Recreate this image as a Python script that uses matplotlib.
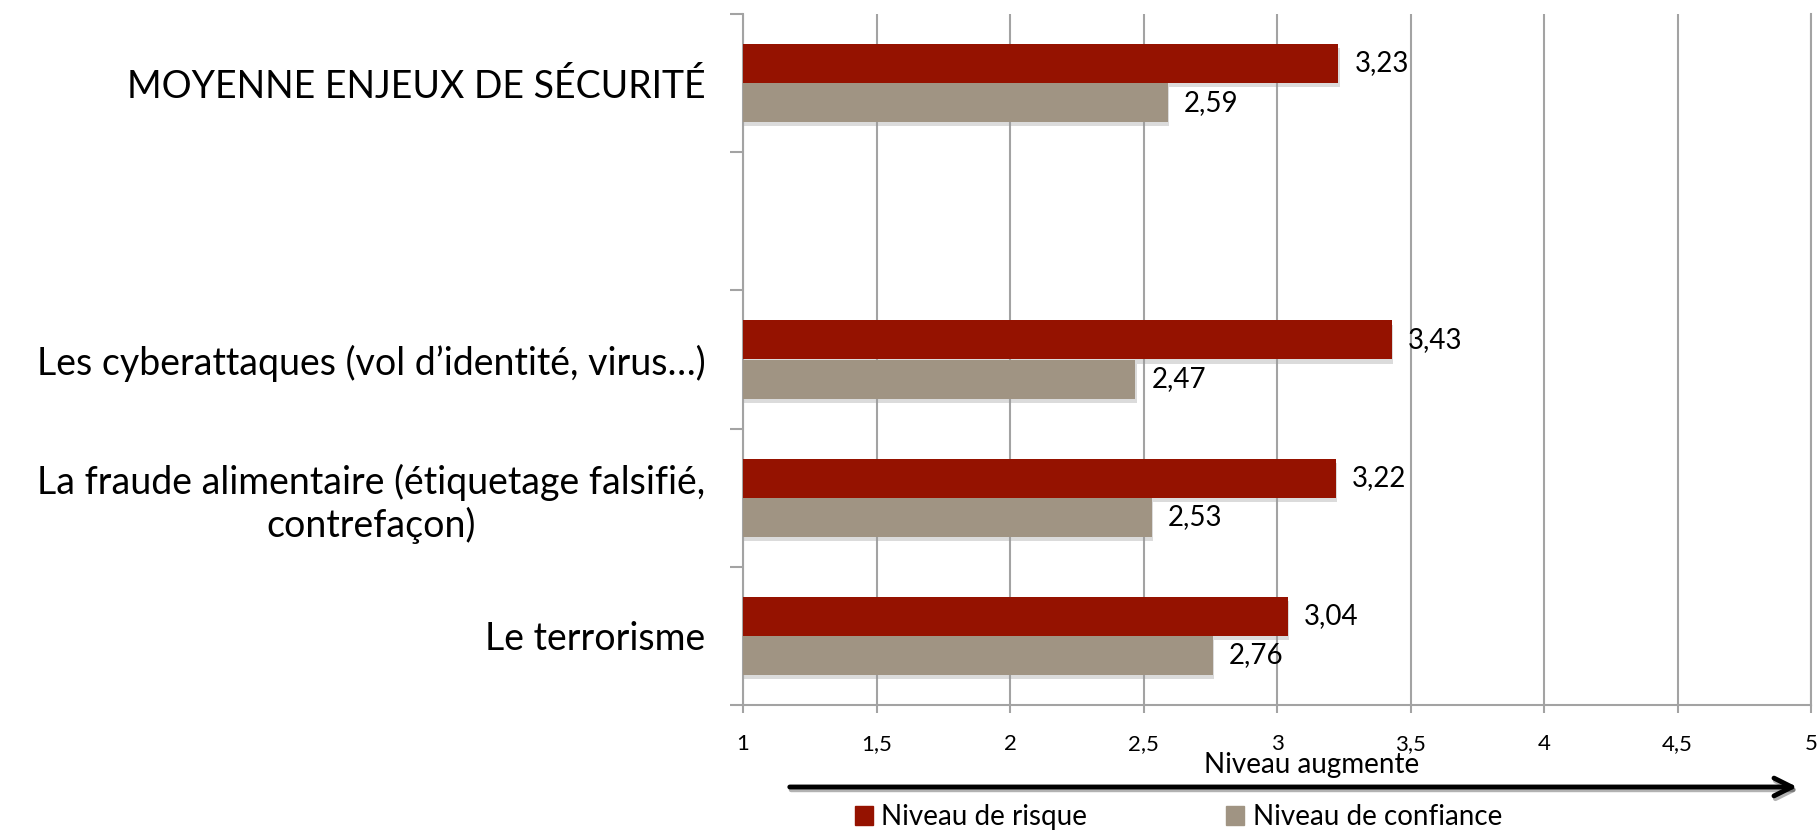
import numpy as np
import matplotlib
matplotlib.use('Agg')
import matplotlib.pyplot as plt
import matplotlib.patheffects as pe

plt.rcParams['font.family'] = ['Lato', 'DejaVu Sans']

# Data (bottom to top, blank slot between the items and the average)
categories = ['Le terrorisme',
              'La fraude alimentaire (étiquetage falsifié,\ncontrefaçon)',
              'Les cyberattaques (vol d\u2019identité, virus\u2026)',
              '',
              'MOYENNE ENJEUX DE SÉCURITÉ']
risque = [3.04, 3.22, 3.43, np.nan, 3.23]
confiance = [2.76, 2.53, 2.47, np.nan, 2.59]
xticks = [1, 1.5, 2, 2.5, 3, 3.5, 4, 4.5, 5]

red = '#951200'
grey = '#a09483'
axis_grey = '#a3a3a3'

fig = plt.figure(figsize=(18.2, 8.34), dpi=100)
ax = fig.add_axes([743 / 1820, 1 - 705 / 834, (1811 - 743) / 1820, (705 - 14) / 834])

y = np.arange(len(categories))
h = 0.283
shadow = [pe.SimplePatchShadow(offset=(1, -3), shadow_rgbFace='#999999', alpha=0.35), pe.Normal()]

for i in range(len(categories)):
    if np.isnan(risque[i]):
        continue
    b1 = ax.barh(y[i] + h / 2, risque[i] - 1, left=1, height=h, color=red, zorder=3)
    b2 = ax.barh(y[i] - h / 2, confiance[i] - 1, left=1, height=h, color=grey, zorder=3)
    for b in list(b1) + list(b2):
        b.set_path_effects(shadow)
    ax.text(risque[i] + 0.06, y[i] + h / 2, f'{risque[i]:.2f}'.replace('.', ','),
            va='center', ha='left', fontsize=20, zorder=4)
    ax.text(confiance[i] + 0.06, y[i] - h / 2, f'{confiance[i]:.2f}'.replace('.', ','),
            va='center', ha='left', fontsize=20, zorder=4)

ax.set_xlim(1, 5)
ax.set_ylim(-0.5, len(categories) - 0.5)

ax.set_xticks(xticks)
ax.set_xticklabels([f'{t:g}'.replace('.', ',') for t in xticks], fontsize=16)
ax.tick_params(axis='x', length=6, width=1.5, color=axis_grey, pad=15)

ax.set_yticks(y)
ax.set_yticklabels(categories, fontsize=27, ha='right', multialignment='center')
ax.tick_params(axis='y', which='major', length=0, pad=27)
ax.set_yticks(np.arange(-0.5, len(categories), 1), minor=True)
ax.tick_params(axis='y', which='minor', length=9.5, width=1.5, color=axis_grey)

ax.grid(axis='x', color=axis_grey, lw=1.5, zorder=0)
ax.set_axisbelow(True)
ax.spines['top'].set_visible(False)
for s in ['left', 'bottom', 'right']:
    ax.spines[s].set_color(axis_grey)
    ax.spines[s].set_linewidth(1.5)

# arrow and caption below the axis
fig.text(1312 / 1820, 1 - 773 / 834, 'Niveau augmente', ha='center', va='baseline', fontsize=20)
ax.annotate('', xy=(1800 / 1820, 1 - 787 / 834), xytext=(787 / 1820, 1 - 787 / 834),
            xycoords='figure fraction', textcoords='figure fraction',
            arrowprops=dict(arrowstyle='->', lw=3.5, color='black', mutation_scale=32,
                            path_effects=[pe.SimpleLineShadow(offset=(1, -2), alpha=0.3), pe.Normal()]))

# legend
handles = [plt.Rectangle((0, 0), 1, 1, color=red), plt.Rectangle((0, 0), 1, 1, color=grey)]
fig.legend(handles, ['Niveau de risque', 'Niveau de confiance'], loc='center left',
           bbox_to_anchor=(841 / 1820, 1 - 817 / 834), ncol=2, frameon=False, fontsize=20,
           handlelength=0.65, handleheight=0.65, handletextpad=0.3, columnspacing=5.0, borderpad=0)

fig.savefig('out.png', dpi=100)
